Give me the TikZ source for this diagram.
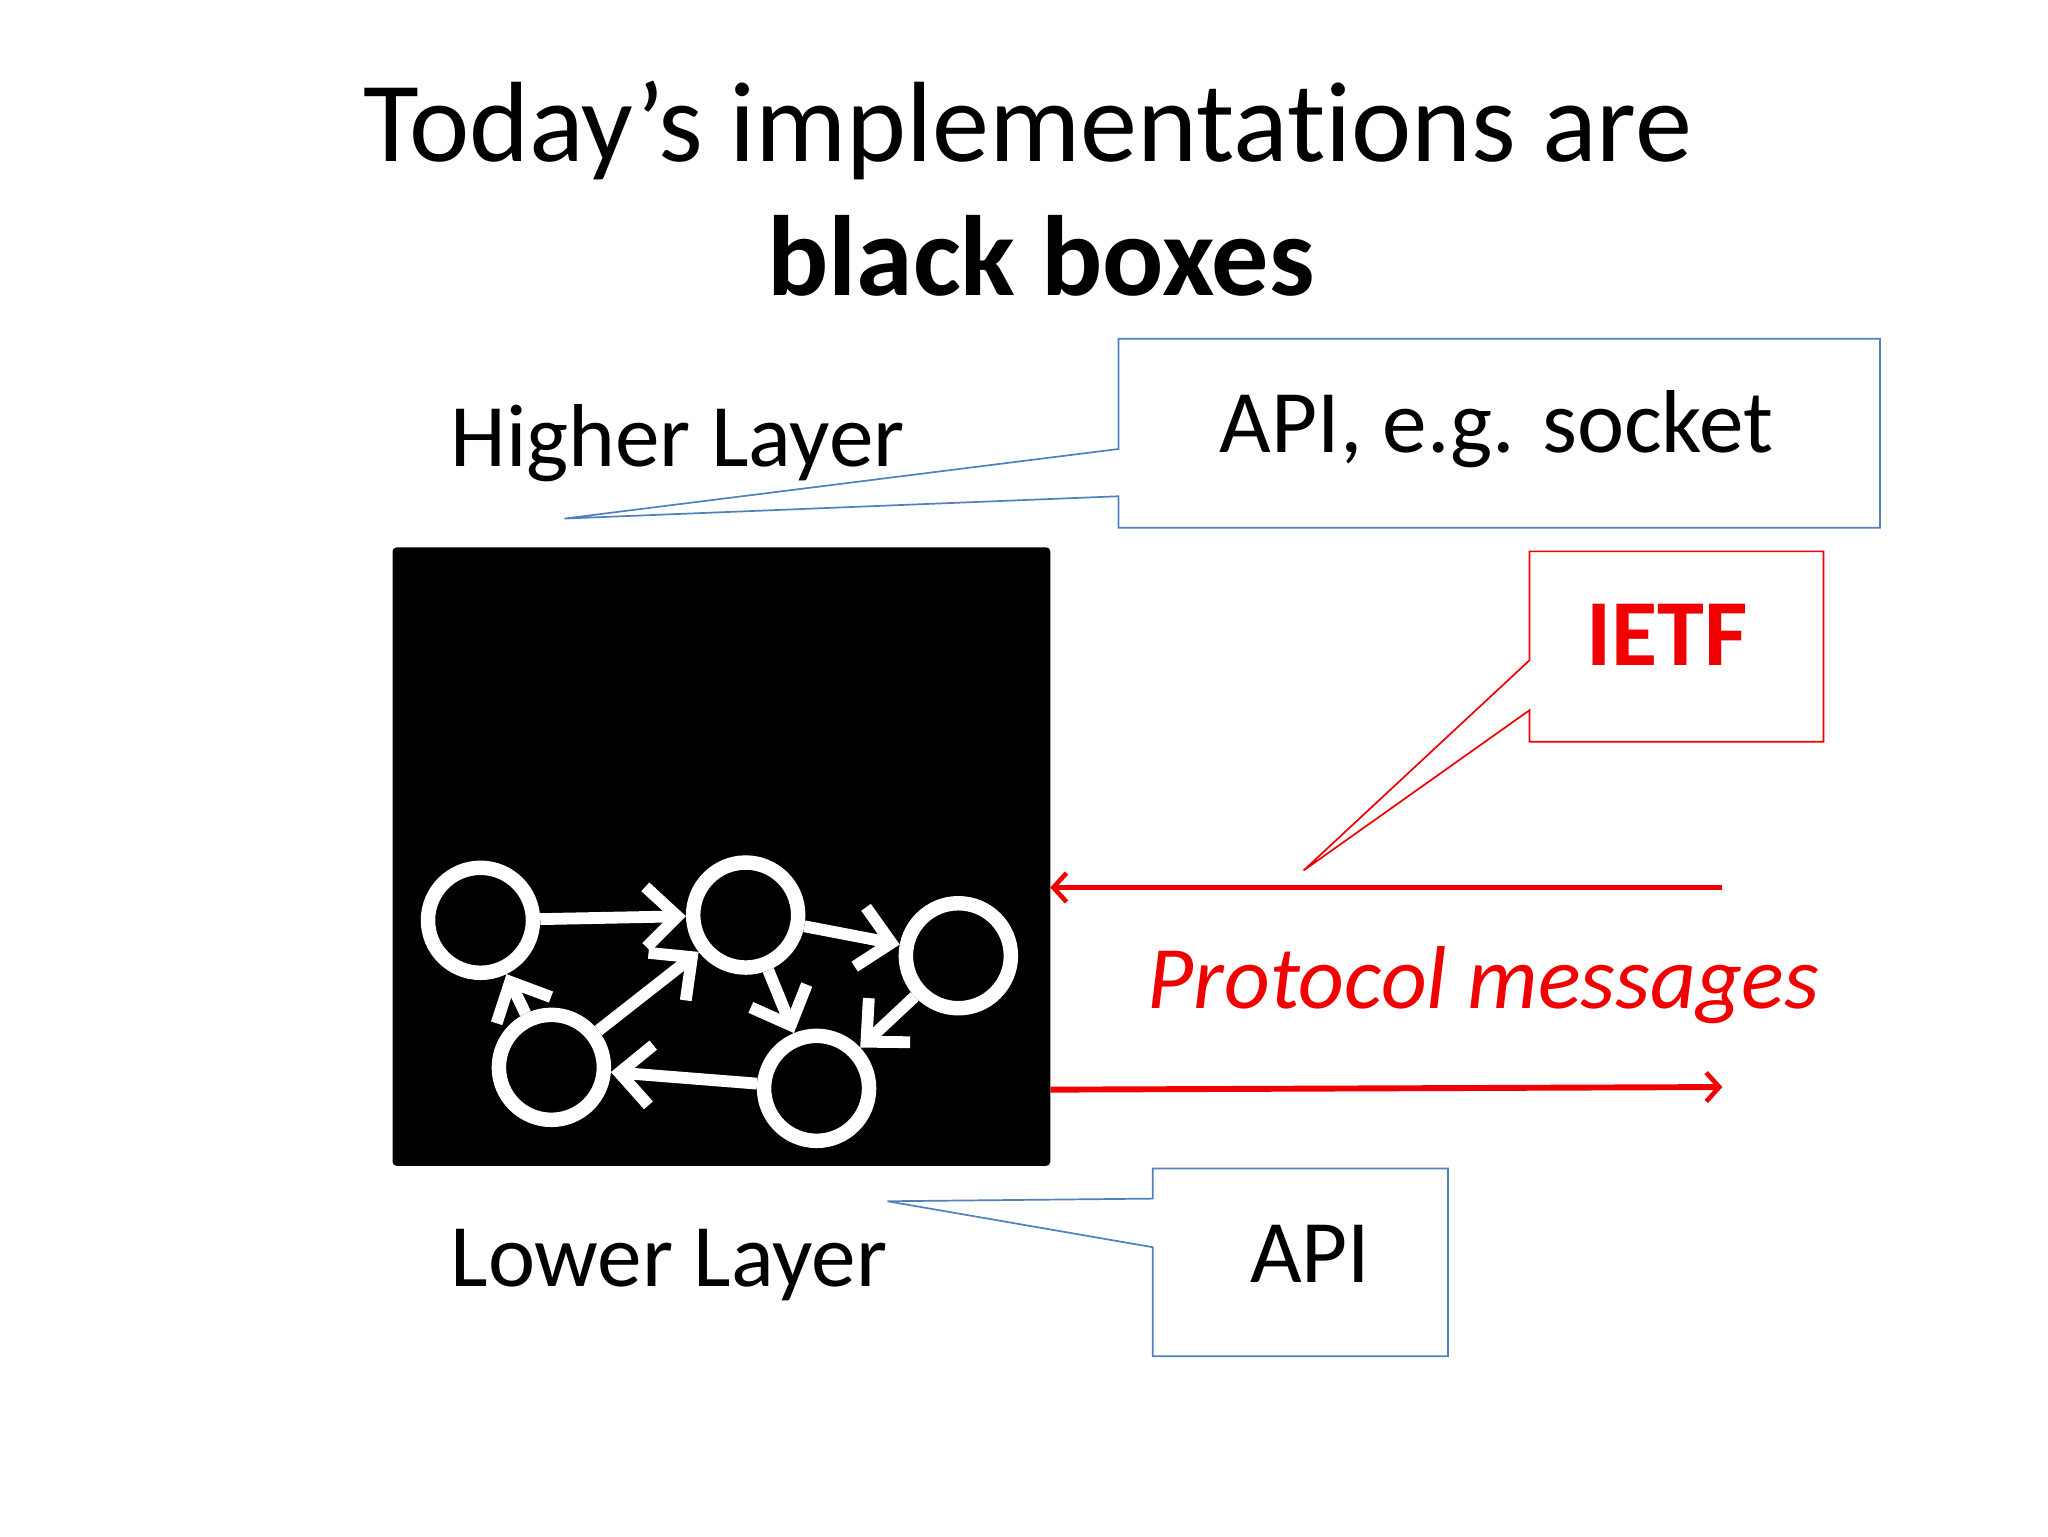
\documentclass[tikz,border=0pt]{standalone}
\usepackage{fontspec}
\setmainfont{Carlito}[Ligatures={NoCommon}]
\usetikzlibrary{arrows.meta}
\definecolor{cblue}{RGB}{79,129,189}
\definecolor{cred}{RGB}{240,0,0}
\begin{document}
\begin{tikzpicture}[x=1pt,y=-1pt,
  call/.style={line width=1.3pt,fill=white,line join=miter},
  wa/.style={white,line width=9pt,-{Straight Barb[length=24pt,width=46pt,line width=9pt]}},
  ra/.style={cred,line width=4.5pt,-{Straight Barb[length=10pt,width=22pt,line width=3.5pt]}}]
\useasboundingbox (0,0) rectangle (1560,1170);
\fill[white] (0,0) rectangle (1560,1170);
\node[anchor=base] (t1) at (783,123) {\fontsize{87}{100}\selectfont Today\char39 s implementations are};
\node[anchor=base] (t2) at (793,225) {\fontsize{87}{100}\selectfont\bfseries black boxes};
\node[anchor=base west,inner sep=0] (hl) at (343,355) {\fontsize{68}{80}\selectfont Higher Layer};
\node[anchor=base west,inner sep=0] (ll) at (343,980) {\fontsize{68}{80}\selectfont Lower Layer};
% callouts
\draw[call,draw=cblue] (852,258) -- (1432,258) -- (1432,402) -- (852,402) -- (852,378) -- (430,395) -- (852,342) -- cycle;
\node[anchor=base] (api1) at (1140,345) {\fontsize{68}{80}\selectfont API, e.g. socket};
\draw[call,draw=cred] (1165,420) -- (1389,420) -- (1389,565) -- (1165,565) -- (1165,541) -- (993,663) -- (1165,503) -- cycle;
\node[anchor=base,text=cred] (ietf) at (1270,507) {\fontsize{72}{80}\selectfont\bfseries IETF};
\draw[call,draw=cblue] (878,890) -- (1103,890) -- (1103,1033) -- (878,1033) -- (878,950) -- (676,915) -- (878,913) -- cycle;
\node[anchor=base] (api2) at (998,977) {\fontsize{68}{80}\selectfont API};
% black box
\fill[black,rounded corners=3pt] (299,417) rectangle (800,888);
\coordinate (bxr1) at (800,676); \coordinate (bxr2) at (800,830);
\coordinate (e1) at (1312,676); \coordinate (e2) at (1312,828);
\draw[ra] (e1) -- (bxr1);
\draw[ra] (bxr2) -- (e2);
\node[anchor=base,text=cred] (pm) at (1130,768) {\fontsize{68}{80}\selectfont\itshape Protocol messages};
% graph
\foreach \n/\x/\y in {c1/366/701,c2/568/697,c3/730/728,c4/420/813,c5/622/829}
  \node[circle,draw=white,line width=11pt,minimum size=80pt,inner sep=0] (\n) at (\x,\y) {};
\draw[wa] (c1) -- (c2);
\draw[wa] (c2) -- (c3);
\draw[wa] (c2) -- (c5);
\draw[wa] (c3) -- (c5);
\draw[wa] (c5) -- (c4);
\draw[wa] (c4) -- (c2);
\draw[wa] (c4) -- (c1);
\end{tikzpicture}
\end{document}
